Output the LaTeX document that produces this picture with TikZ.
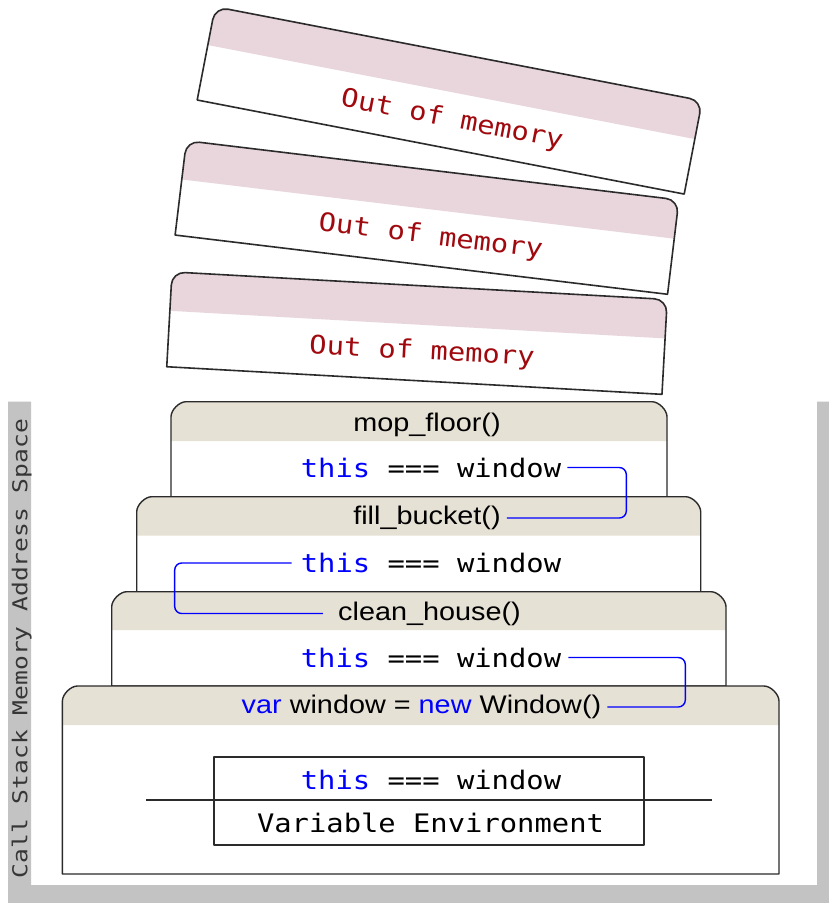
\documentclass[tikz,border=0pt]{standalone}
\usepackage{fontspec}
\newfontfamily\monof[FakeStretch=1.13]{DejaVu Sans Mono}
\newfontfamily\headf[FakeStretch=1.13]{Liberation Sans}
\newfontfamily\sidef[FakeStretch=1.2]{DejaVu Sans Mono}
\definecolor{codeblue}{HTML}{0000FF}
\definecolor{oomred}{HTML}{A00A0F}
\definecolor{cardpink}{HTML}{E8D6DC}
\definecolor{hdrbeige}{HTML}{E6E1D5}
\definecolor{sidegray}{HTML}{C3C3C3}
\definecolor{sidetext}{HTML}{363636}
\definecolor{edge}{HTML}{2B2B2B}
\newcommand\kwd[1]{\textcolor{codeblue}{#1}}
\newcommand\cardpath{(-248,47.5) -- (-248,-34.5) .. controls (-248,-41.68) and (-242.18,-47.5) .. (-235,-47.5) -- (235,-47.5) .. controls (242.18,-47.5) and (248,-41.68) .. (248,-34.5) -- (248,47.5) -- cycle}
\newcommand\drawcard[4]{%
  \begin{scope}[shift={(#1,#2)},rotate=#3]
    \fill[white] \cardpath;
    \fill[cardpink] (-248,-8.5) -- (-248,-34.5) .. controls (-248,-41.68) and (-242.18,-47.5) .. (-235,-47.5) -- (235,-47.5) .. controls (242.18,-47.5) and (248,-41.68) .. (248,-34.5) -- (248,-8.5) -- cycle;
    \draw[cardline] \cardpath;
    \node[oomtxt,transform shape] (#4) at (6,19) {Out of memory};
  \end{scope}}
\newcommand\drawframe[5]{%
  \fill[white] (#1,#5) -- (#1,#3+15) .. controls (#1,#3+8.28) and (#1+8.28,#3) .. (#1+15,#3) -- (#2-15,#3) .. controls (#2-8.28,#3) and (#2,#3+8.28) .. (#2,#3+15) -- (#2,#5) -- cycle;
  \fill[hdrbeige] (#1,#4) -- (#1,#3+15) .. controls (#1,#3+8.28) and (#1+8.28,#3) .. (#1+15,#3) -- (#2-15,#3) .. controls (#2-8.28,#3) and (#2,#3+8.28) .. (#2,#3+15) -- (#2,#4) -- cycle;
  \draw[frameline] (#1,#5) -- (#1,#3+15) .. controls (#1,#3+8.28) and (#1+8.28,#3) .. (#1+15,#3) -- (#2-15,#3) .. controls (#2-8.28,#3) and (#2,#3+8.28) .. (#2,#3+15) -- (#2,#5) -- cycle;}
\begin{document}
\begin{tikzpicture}[x=1pt,y=-1pt,
  cardline/.style={draw=edge,line width=1.6pt,line join=round},
  frameline/.style={draw=edge,line width=1.4pt,line join=round},
  oomtxt/.style={inner sep=0pt,text=oomred,font=\monof\fontsize{25.5}{30}\selectfont},
  hdrtxt/.style={inner sep=0pt,text=black,font=\headf\fontsize{25.5}{30}\selectfont},
  bodytxt/.style={inner sep=0pt,text=black,font=\monof\fontsize{25.5}{30}\selectfont},
  sidetxt/.style={inner sep=0pt,text=sidetext,font=\sidef\fontsize{20.5}{24}\selectfont},
  conn/.style={draw=codeblue,line width=1.4pt,rounded corners=7pt}]
\useasboundingbox (0,0) rectangle (829,903);
\fill[white] (0,0) rectangle (829,903);
% gray frame
\fill[sidegray] (8,401.7) -- (31,401.7) -- (31,885) -- (817,885) -- (817,401.7) -- (829,401.7) -- (829,903) -- (8,903) -- cycle;
\node[sidetxt,rotate=90] (lbl) at (21.6,648.5) {Call Stack Memory Address Space};
% out of memory cards
\drawcard{449.7}{100.4}{-10.93}{oom1}
\drawcard{427.0}{217.5}{-6.86}{oom2}
\drawcard{417.0}{333.1}{-3.19}{oom3}
% stack frames
\drawframe{171}{667}{401.7}{441}{496.7}
\drawframe{136.7}{700.7}{496.7}{535.7}{591.7}
\drawframe{111.7}{726}{591.7}{630}{686}
\drawframe{62.4}{779}{686}{725}{874}
% variable environment box
\draw[frameline] (214,757) rectangle (644,845);
\draw[frameline] (146,800) -- (712,800);
% texts
\node[hdrtxt] (h1) at (427,424.5) {mop\_floor()};
\node[bodytxt] (b1) at (431,467.5) {\kwd{this} === window};
\node[hdrtxt] (h2) at (427,518) {fill\_bucket()};
\node[bodytxt] (b2) at (431,563) {\kwd{this} === window};
\node[hdrtxt] (h3) at (429.5,613.5) {clean\_house()};
\node[bodytxt] (b3) at (431,657.5) {\kwd{this} === window};
\node[hdrtxt] (h4) at (421.5,707) {\kwd{var} window = \kwd{new} Window()};
\node[bodytxt] (b4) at (431,779.5) {\kwd{this} === window};
\node[bodytxt] (ve) at (430.5,823) {Variable Environment};
% connectors
\draw[conn] ([xshift=6pt]b1.east) -- ([xshift=65pt]b1.east) |- ([xshift=6pt]h2.east);
\draw[conn] ([xshift=-9pt]b2.west) -- ([xshift=-126pt]b2.west) |- ([xshift=-15pt]h3.west);
\draw[conn] ([xshift=7pt]b3.east) -- ([xshift=124pt]b3.east) |- ([xshift=6pt]h4.east);
\end{tikzpicture}
\end{document}
